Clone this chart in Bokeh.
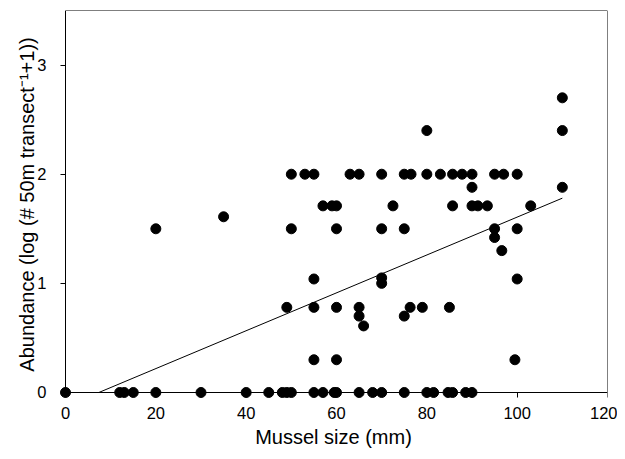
from bokeh.plotting import figure
from bokeh.embed import file_html
from bokeh.resources import INLINE
from bokeh.models import Range1d, FixedTicker, LinearAxis

# Mussel size (mm) and abundance (log(# 50m transect^-1 + 1))
size_zero = [0, 12, 13, 15, 20, 30, 40, 45, 48, 49, 50, 55, 57, 59.5, 60, 65, 68, 70,
             75, 80, 81.5, 84.7, 85.7, 88.6, 90]
abund_zero = [0.0] * len(size_zero)

size_pos = [20, 35,
            50, 53, 55, 63, 65, 70, 75, 76.5, 80, 83, 85.7, 87.8, 90, 95, 97, 100,
            80, 110, 110, 90, 110,
            57, 59, 60, 72.5, 85.7, 90, 91.3, 93.4, 103,
            50, 60, 70, 75, 95, 100,
            95, 96.6,
            55, 70, 70, 100,
            49, 55, 60, 65, 76.3, 79, 85,
            65, 75, 66,
            55, 60, 99.5]
abund_pos = [1.5, 1.61,
             2.0, 2.0, 2.0, 2.0, 2.0, 2.0, 2.0, 2.0, 2.0, 2.0, 2.0, 2.0, 2.0, 2.0, 2.0, 2.0,
             2.4, 2.4, 2.7, 1.88, 1.88,
             1.71, 1.71, 1.71, 1.71, 1.71, 1.71, 1.71, 1.71, 1.71,
             1.5, 1.5, 1.5, 1.5, 1.5, 1.5,
             1.42, 1.3,
             1.04, 1.05, 1.0, 1.04,
             0.78, 0.78, 0.78, 0.78, 0.78, 0.78, 0.78,
             0.7, 0.7, 0.61,
             0.3, 0.3, 0.3]

sizes = size_zero + size_pos
abundance = abund_zero + abund_pos

# Linear regression line shown in the chart
fit_intercept = -0.128
fit_slope = 0.01735
fit_x = [7.4, 110]
fit_y = [fit_intercept + fit_slope * x for x in fit_x]

x_ticks = [0, 20, 40, 60, 80, 100, 120]
y_ticks = [0, 1, 2, 3]
x_min, x_max = 0, 120
y_min, y_max = 0, 3.5

# small padding so markers sitting on the axes are not clipped
x_pad = 1.33
y_pad = 0.055

FONT = "Liberation Sans"

p = figure(width=617, height=458, output_backend="svg", toolbar_location=None,
           x_range=Range1d(x_min - x_pad, x_max), y_range=Range1d(y_min - y_pad, y_max),
           min_border_left=59, min_border_top=10, min_border_right=10, min_border_bottom=60)

p.grid.visible = False
p.outline_line_color = None
p.background_fill_color = "white"
p.border_fill_color = "white"

# top and right frame lines
p.segment(x0=[x_min, x_max], y0=[y_max, y_min], x1=[x_max, x_max], y1=[y_max, y_max],
          line_color="black", line_width=1)

p.line(fit_x, fit_y, line_color="black", line_width=1)
p.scatter(sizes, abundance, size=10, fill_color="black", line_color="black")

# label-only axes at the frame edges
for ax in (p.xaxis[0], p.yaxis[0]):
    ax.axis_line_color = None
    ax.major_tick_line_color = None
    ax.major_tick_out = 0
    ax.major_tick_in = 0
    ax.minor_tick_line_color = None
    ax.major_label_text_font = FONT
    ax.major_label_text_font_size = "16.5px"
    ax.major_label_text_color = "black"
    ax.axis_label_text_font = FONT
    ax.axis_label_text_font_size = "20px"
    ax.axis_label_text_font_style = "normal"
    ax.axis_label_text_color = "black"

p.xaxis[0].ticker = FixedTicker(ticks=x_ticks)
p.yaxis[0].ticker = FixedTicker(ticks=y_ticks)
p.xaxis[0].axis_label = "Mussel size (mm)"
p.yaxis[0].axis_label = "Abundance (log (# 50m transect\u207b\u00b9+1))"
p.xaxis[0].major_label_standoff = 8
p.yaxis[0].major_label_standoff = 13
p.xaxis[0].axis_label_standoff = 4
p.yaxis[0].axis_label_standoff = -4

# axis lines and ticks placed exactly at zero (no labels of their own)
line_axis_style = dict(major_tick_in=5, major_tick_out=0,
                       major_label_text_font_size="1px",
                       major_label_text_color=None,
                       major_label_standoff=0,
                       minor_tick_line_color=None,
                       axis_line_color="black", major_tick_line_color="black")
x_line_axis = LinearAxis(fixed_location=y_min, bounds=(x_min, x_max),
                         ticker=FixedTicker(ticks=x_ticks), **line_axis_style)
y_line_axis = LinearAxis(fixed_location=x_min, bounds=(y_min, y_max),
                         ticker=FixedTicker(ticks=y_ticks), **line_axis_style)
p.add_layout(x_line_axis, "above")
p.add_layout(y_line_axis, "right")

open("out.html", "w").write(file_html(p, INLINE))
